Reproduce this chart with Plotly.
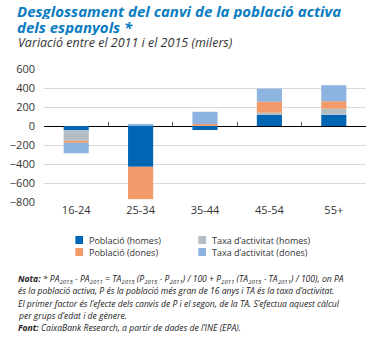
import plotly.graph_objects as go

ages = ["16-24", "25-34", "35-44", "45-54", "55+"]
pob_homes = [-45, -430, -42, 119, 118]
taxa_homes = [-110, 0, 0, 21, 63]
pob_dones = [-22, -340, 20, 116, 80]
taxa_dones = [-110, 22, 130, 137, 168]

series_names = ["Població (homes)", "Taxa d’activitat (homes)",
                "Població (dones)", "Taxa d’activitat (dones)"]
series_vals = [pob_homes, taxa_homes, pob_dones, taxa_dones]
series_cols = ["#0066b3", "#b2bec4", "#f39a6b", "#8db4e1"]

title_lines = ["Desglossament del canvi de la població activa", "dels espanyols *"]
subtitle = "Variació entre el 2011 i el 2015 (milers)"
note_lines = [
    "<b>Nota:</b> * PA<sub>2015</sub> - PA<sub>2011</sub> = TA<sub>2015</sub> (P<sub>2015</sub> - P<sub>2011</sub>) / 100 + "
    "P<sub>2011</sub> (TA<sub>2015</sub> - TA<sub>2011</sub>) / 100), on PA",
    "és la població activa, P és la població més gran de 16 anys i TA és la taxa d’activitat.",
    "El primer factor és l’efecte dels canvis de P i el segon, de la TA. S’efectua aquest càlcul",
    "per grups d’edat i de gènere.",
    "<b>Font:</b> CaixaBank Research, a partir de dades de l’INE (EPA).",
]

W, H = 376, 338
ml, mr, mt, mb = 32, 10, 69, 136
ph = H - mt - mb
pw = W - ml - mr
bottom = H - mb


def px_x(p):
    return (p - ml) / pw


def px_y(p):
    return (bottom - p) / ph


fig = go.Figure()
for name, vals, col in zip(series_names, series_vals, series_cols):
    fig.add_trace(go.Bar(x=ages, y=vals, name=name, showlegend=False,
                         marker=dict(color=col, line=dict(width=0))))

# invisible trace to give the boundary-tick axis its categories
fig.add_trace(go.Scatter(x=ages, y=[0] * len(ages), xaxis="x2", mode="none",
                         showlegend=False, hoverinfo="skip"))

txt = "#333333"
fig.update_layout(
    width=W, height=H,
    margin=dict(l=ml, r=mr, t=mt, b=mb),
    paper_bgcolor="white", plot_bgcolor="white",
    barmode="relative", bargap=0.61,
    font=dict(family="Open Sans", size=11, color=txt),
    xaxis=dict(type="category", categoryarray=ages, showgrid=False, showline=False,
               ticks="", tickfont=dict(size=11, color=txt), range=[-0.5, 4.5]),
    xaxis2=dict(type="category", categoryarray=ages, overlaying="x", anchor="free",
                position=800 / 1400, side="bottom", showticklabels=False,
                showgrid=False, showline=False, ticks="inside", ticklen=4,
                tickcolor="#555555", tickwidth=1, tickson="boundaries",
                range=[-0.5, 4.5], matches="x"),
    yaxis=dict(range=[-800, 600], tickvals=[-800, -600, -400, -200, 0, 200, 400, 600],
               showgrid=True, gridcolor="#d9d9d9", gridwidth=1,
               zeroline=True, zerolinecolor="#000000", zerolinewidth=1,
               showline=False, ticks="", ticklabelstandoff=8,
               tickfont=dict(size=11, color=txt)),
    showlegend=False,
)

# title (two separate lines for tight leading)
for line, yc in zip(title_lines, [10.5, 26]):
    fig.add_annotation(
        text=line, xref="paper", yref="paper", x=px_x(2), xanchor="left",
        y=px_y(yc), yanchor="middle", showarrow=False, height=17, valign="middle",
        font=dict(family="Open Sans", size=15.0, color="#0a7cc1", weight="bold", style="italic"))

fig.add_annotation(
    text=subtitle, xref="paper", yref="paper", x=px_x(3), xanchor="left",
    y=px_y(42), yanchor="middle", height=15, valign="middle",
    showarrow=False, font=dict(size=12.5, color=txt, style="italic"))

# legend drawn manually (2 columns, row-wise order)
leg_x = [64.5, 192]
leg_y = [240, 252]
for i, (name, col) in enumerate(zip(series_names, series_cols)):
    cx = leg_x[i % 2]
    cy = leg_y[i // 2]
    fig.add_shape(type="rect", xref="paper", yref="paper",
                  x0=px_x(cx), x1=px_x(cx + 8), y0=px_y(cy - 4), y1=px_y(cy + 4),
                  fillcolor=col, line=dict(width=0))
    fig.add_annotation(text=name, xref="paper", yref="paper", x=px_x(cx + 12.5),
                       xanchor="left", y=px_y(cy), yanchor="middle", showarrow=False,
                       height=12, valign="middle",
                       font=dict(size=9.0, color=txt))

for line, yc in zip(note_lines, [279, 291.5, 304, 316, 328]):
    fig.add_annotation(
        text=line, xref="paper", yref="paper",
        x=px_x(3), xanchor="left", align="left",
        y=px_y(yc), yanchor="middle", height=12.5, valign="middle",
        showarrow=False, font=dict(size=8.6, color="#222222", style="italic"))

fig.write_html("out.html")
